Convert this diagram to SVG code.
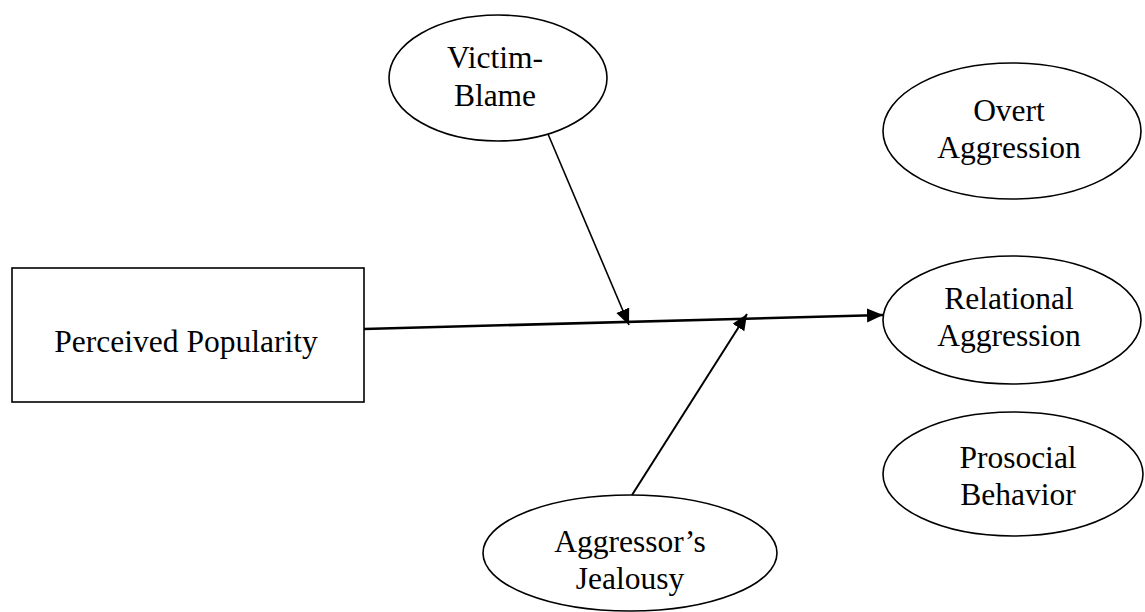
<svg xmlns="http://www.w3.org/2000/svg" width="1145" height="612" viewBox="0 0 1145 612">
<style>
.shape{fill:#fff;stroke:#000;stroke-width:1.6}
.lbl{font-family:"Liberation Serif","Times New Roman",serif;font-size:31.5px;fill:#000;text-anchor:middle}
.edge{fill:none;stroke:#000}
</style>
<defs>
<marker id="arr" markerUnits="userSpaceOnUse" markerWidth="17" markerHeight="15" refX="16" refY="7" orient="auto">
<path d="M0,0 L16,7 L0,14 z" fill="#000"/>
</marker>
</defs>
<rect width="1145" height="612" fill="#fff"/>
<g id="perceived-popularity">
<rect class="shape" x="12" y="268" width="352" height="134"/>
<text class="lbl" x="186" y="352">Perceived Popularity</text>
</g>
<g id="victim-blame">
<ellipse class="shape" cx="498" cy="78" rx="109" ry="63"/>
<text class="lbl" x="495" y="68">Victim-</text>
<text class="lbl" x="495" y="106">Blame</text>
</g>
<g id="overt-aggression">
<ellipse class="shape" cx="1012" cy="131" rx="129" ry="68"/>
<text class="lbl" x="1009" y="121">Overt</text>
<text class="lbl" x="1009" y="158">Aggression</text>
</g>
<g id="relational-aggression">
<ellipse class="shape" cx="1012" cy="320" rx="129" ry="64"/>
<text class="lbl" x="1009" y="309">Relational</text>
<text class="lbl" x="1009" y="346">Aggression</text>
</g>
<g id="prosocial-behavior">
<ellipse class="shape" cx="1013" cy="474" rx="130" ry="62"/>
<text class="lbl" x="1018" y="468">Prosocial</text>
<text class="lbl" x="1018" y="505">Behavior</text>
</g>
<g id="aggressors-jealousy">
<ellipse class="shape" cx="630" cy="553" rx="147" ry="58"/>
<text class="lbl" x="630" y="552">Aggressor’s</text>
<text class="lbl" x="630" y="589">Jealousy</text>
</g>
<g id="connectors">
<line class="edge" x1="364" y1="329" x2="883" y2="315" stroke-width="2.6" marker-end="url(#arr)"/>
<line class="edge" x1="548" y1="134" x2="629" y2="325" stroke-width="1.6" marker-end="url(#arr)"/>
<line class="edge" x1="632" y1="495" x2="747" y2="314" stroke-width="2" marker-end="url(#arr)"/>
</g>
</svg>
